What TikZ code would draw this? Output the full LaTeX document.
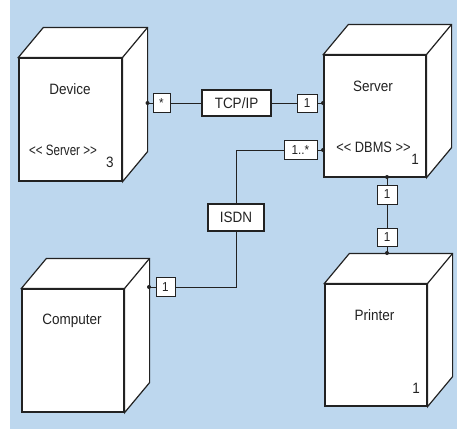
\documentclass[tikz,border=0pt]{standalone}
\usepackage{graphicx}
\usepackage{fontspec}
\setmainfont[FakeStretch=0.9]{Liberation Sans}
\definecolor{bg}{RGB}{189,215,238}
\definecolor{ln}{RGB}{34,34,34}
\tikzset{
 face/.style={draw=ln, fill=white, line width=1.2pt, minimum width=102pt, minimum height=122pt, inner sep=0pt},
 mult/.style={draw=ln, fill=white, line width=1pt, inner sep=0pt, font=\fontsize{13}{13}\selectfont, text=ln},
 conn/.style={draw=ln, line width=1pt},
 lbl/.style={font=\fontsize{15}{15}\selectfont, text=ln, inner sep=0pt},
 dotmark/.style={circle, fill=ln, inner sep=0pt, minimum size=4pt}
}
\newcommand\cubesides[1]{%
 \draw[draw=ln, line width=1.2pt, fill=white, line join=miter]
   (#1.north west) -- ++(25,-30) -- ([shift={(25,-30)}]#1.north east)
   -- ([shift={(25,-30)}]#1.south east) -- (#1.south east) -- (#1.north east) -- cycle;
 \draw[draw=ln, line width=1.2pt] (#1.north east) -- ++(25,-30);}
\begin{document}
\begin{tikzpicture}[x=1pt,y=-1pt]
\useasboundingbox (0,0) rectangle (457,429);
\fill[bg] (10,0) rectangle (457,429);

% nodes (front faces)
\node[face, minimum width=103pt, minimum height=123pt] (dev) at (70.5,119.5) {};
\node[face] (srv) at (375,116) {};
\node[face, minimum height=123pt] (cmp) at (73,350.5) {};
\node[face] (prn) at (376,345) {};
\cubesides{dev}
\cubesides{srv}
\cubesides{cmp}
\cubesides{prn}

% labels
\node[lbl] (devT) at (70,89) {Device};
\node[lbl] (devS) at (63,150) {\scalebox{0.86}[1]{{<}{<} Server {>}{>}}};
\node[lbl] (devN) at (110,162) {3};
\node[lbl] (srvT) at (373,86) {Server};
\node[lbl] (srvS) at (373.5,147) {\scalebox{0.95}[1]{{<}{<} DBMS {>}{>}}};
\node[lbl] (srvN) at (415,159) {1};
\node[lbl] (cmpT) at (72,321) {Computer};
\node[lbl] (prnT) at (374.5,315) {Printer};
\node[lbl] (prnN) at (416,388) {1};

% connection points
\coordinate (devR) at (147.5,103);
\coordinate (srvL) at (323,103);
\coordinate (srvL2) at (323,150);
\coordinate (cmpR) at (149,287);
\coordinate (srvB) at (387,177);
\coordinate (prnT) at (387,253);

% multiplicity and connector labels
\node[mult, minimum width=17pt, minimum height=19pt] (mStar) at (161.5,103) {*};
\node[mult, line width=1.2pt, minimum width=69pt, minimum height=26pt, font=\fontsize{15}{15}\selectfont] (tcp) at (236.5,103) {TCP/IP};
\node[mult, minimum width=20pt, minimum height=18pt] (mSrv) at (307,103) {1};
\node[mult, minimum width=33pt, minimum height=19pt] (mSrv2) at (300.5,150) {1..*};
\node[mult, line width=1.2pt, minimum width=56pt, minimum height=27pt, font=\fontsize{15}{15}\selectfont] (isdn) at (236,217.5) {ISDN};
\node[mult, minimum width=19pt, minimum height=19pt] (mCmp) at (165.5,287) {1};
\node[mult, minimum width=20pt, minimum height=19pt] (mP1) at (387,194.5) {1};
\node[mult, minimum width=20pt, minimum height=18pt] (mP2) at (387,237) {1};

% connectors
\draw[conn] (devR) -- (mStar);
\draw[conn] (mStar) -- (tcp);
\draw[conn] (tcp) -- (mSrv);
\draw[conn] (mSrv) -- (srvL);
\draw[conn] (srvL2) -- (mSrv2);
\draw[conn] (mSrv2.west) -| (isdn.north);
\draw[conn] (isdn.south) |- (mCmp.east);
\draw[conn] (mCmp) -- (cmpR);
\draw[conn] (srvB) -- (mP1);
\draw[conn] (mP1) -- (mP2);
\draw[conn] (mP2) -- (prnT);

% end dots
\foreach \p in {devR,srvL,srvL2,cmpR,srvB,prnT} \node[dotmark] at (\p) {};
\end{tikzpicture}
\end{document}
